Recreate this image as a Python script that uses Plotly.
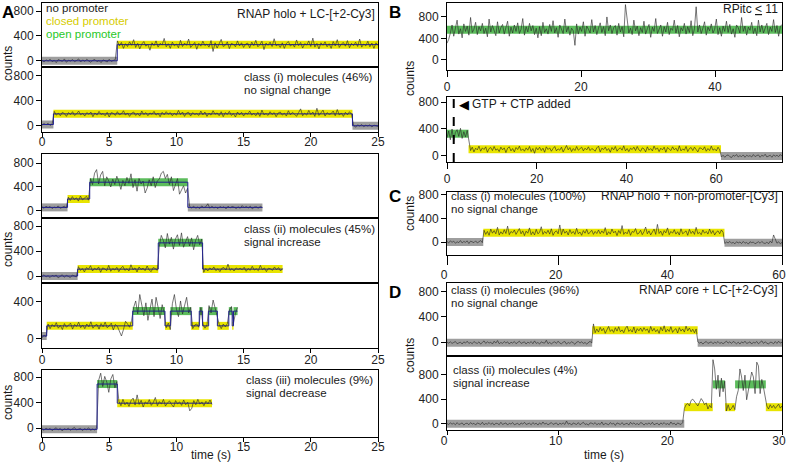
import numpy as np
import plotly.graph_objects as go

# ------------------------------------------------------------------
# DATA (levels in counts, times in s)
# Each panel: state boundaries (s), fitted level per state (counts),
# state per segment, and the raw trace as deviations from the fitted
# level, sampled evenly over the recording.
# ------------------------------------------------------------------
# Panel A, trace 1 (RNAP holo + LC-[+2-Cy3])
A1_bounds = [0, 5.6, 25]
A1_levels = [0, 260]
A1_states = ['none', 'closed']
A1_noise = [10, -20, 15, -5, 25, -15, 5, -30, 20, 0, -10, 30, -25, 10, -5, 20, -15, 5, 30, -20,
            15, -10, 25, -5, -25, 10, 20, -15, 5, -30, 15, 0, -20, 25, -10, 5, 20, 60, -20, 35,
            -60, 15, -30, 45, -10, 80, -45, 20, -70, 10, 50, -25, 5, -90, 30, -15, 60, -40, 20, -5,
            100, -35, 15, -60, 40, -20, 10, -50, 70, -30, 25, -10, 90, -45, 5, 35, -75, 20, -25, 55,
            -15, 10, -40, 65, -110, 30, -55, 15, 85, -30, -10, 45, -65, 20, 5, -35, 60, -20, 30, -45,
            10, 25, -50, 40, -15, 70, -35, 0, 55, -80, 25, -10, 40, -30, 95, -20, 5, -45, 30, -60,
            20, 50, -25, 10, -40, 75, -15, 35, -55, 15, -5, 60, -30, 105, -40, 20, -70, 30, -10, 45,
            -35, 15, -60, 50, -20, 80, -45, 10, 35, -25, 65, -50, 20, -15, 40, -30, 90, -40, 10, -20,
            55, -35, 25, -60, 30, -10]

# Panel A, trace 2: class (i) molecules (46%)
A2_bounds = [0, 0.85, 23.1, 25]
A2_levels = [20, 190, 0]
A2_states = ['none', 'closed', 'none']
A2_noise = [-10, 15, -5, 20, -15, 10, 40, -20, 10, -30, 25, 5, -40, 20, -10, 35, -25, 0, 45, -15,
            10, -35, 20, -5, 30, -45, 15, -20, 40, -10, 5, -30, 25, -50, 20, 10, -25, 35, -15, 0,
            50, -20, 15, -40, 10, 30, -25, 5, -35, 45, -10, 20, -30, 15, -5, 40, -20, 10, -45, 25,
            -15, 35, -5, 20, -30, 10, -20, 55, -10, 30, -40, 15, 25, -35, 20, -10, 5, -25, 45, -15,
            30, -40, 10, -20, 50, -5, 15, -30, 35, -45, 20, -10, 40, -25, 5, -50, 30, -15, 25, -35,
            15, -5, 45, -20, 10, -30, 25, -40, 60, -15, 5, -25, 35, -10, 20, -45, 15, 30, -20, 10,
            -35, 50, -15, 25, -5, -40, 20, 80, -30, 10, -20, 55, -10, 30, -40, 90, -25, 15, 60, -35,
            20, -10, 5, 45, -30, 70, -20, 15, -40, 25, -15, 35, -5, 10, -25, 15, -5, 20, -15, 10,
            -5, 15, -20, 10, 5, -10]

# Panel A, trace 3: class (ii) example
A3_bounds = [0, 1.9, 3.55, 10.85, 16.4]
A3_levels = [60, 200, 480, 60]
A3_states = ['none', 'closed', 'open', 'none']
A3_noise = [10, -15, 20, -5, 15, -20, 5, -10, 25, -15, 0, 20, -10,
            30, -25, 40, -10, 20, -35, 50, -15, 10, 45, -20,
            60, -40, 150, 210, -30, 120, 180, -60, 90, 20, -80, 50, -40, 100, 10, -120, 30, -60, 80, -20,
            140, -90, 40, -150, 60, -30, 20, -180, -100, 40, -60, 90, -90, 20, 50, 150, 180, 60, 130, -40,
            90, -140, -30, 60, -200, -120, -60, -180, -100,
            15, -10, 20, -15, 5, -20, 25, -5, 10, 60, -15, 20, -10, 5, -20, 15, -5, 10, -25, 20,
            -10, 15, 5, -20, 10, -15, 30, -5, 15, -10, 20, -25, 5, 10, -15, 20, -5]

# Panel A, trace 4: class (ii) molecules (45%)
A4_bounds = [0, 2.65, 8.65, 11.95, 17.9]
A4_levels = [0, 110, 530, 110]
A4_states = ['none', 'closed', 'open', 'closed']
A4_noise = [-10, 20, -15, 5, -25, 10, -5, 15, -30, 0, 20, -20, 10, -5, -25, 15, 5, -15,
            40, -20, 10, -45, 25, 0, 55, -30, 15, -10, 35, -50, 20, 5, -25, 60, -35, 10, -15, 30,
            -40, 15, 45, -20, 5, -30, 70, -10, 20, -45, 35, -5, 15, -25, 50, -15, -40, 25, 10, -20,
            -60, 120, 40, -80, 150, -20, 90, -100, 60, 130, -40, 160, -70, 30, 100, -50, 80, -110, 40, 120,
            -30, 60,
            -50, 10, -30, 20, -10, 35, -25, 5, -40, 15, 25, -15, 80, -20, 10, -30, 20, -5, 15, -10,
            30, -35, 10, -20, 45, -15, 5, -25, 60, -10, 20, -40, 15, 5, -20, 35, -10, 25, -30, 10]

# Panel A, trace 5: class (ii) example with repeated transitions
A5_bounds = [0, 0.35, 6.75, 9.15, 9.55, 11.1, 11.7, 11.95, 12.4, 13.05, 13.9, 14.15, 14.25, 14.55]
A5_levels = [30, 140, 300, 140, 300, 140, 300, 140, 300, 140, 300, 140, 300]
A5_states = ['none', 'closed', 'open', 'closed', 'open', 'closed', 'open', 'closed', 'open',
             'closed', 'open', 'closed', 'open']
A5_noise = [-20, 10, -5,
            20, -30, 15, -10, 35, -25, 5, -40, 25, -15, 10, 30, -35, 15, -5, 40, -20, 10, -30, 20,
            -10, 45, -25, 5, 15, -35, 25, -10, 40, -20, 0, 30, -45, 15, -5, -60, -110, -40, 50, 20,
            -15, 60,
            40, 110, -30, 180, 60, -50, 90, -100, 20, 130, -60, 150, 40, -80, 70, -20,
            -20, 30,
            -40, 80, 180, 20, -60, 110, -30, 60, 150, -20, 40,
            -30, 10, 20, -15,
            40,
            20, -25, 10,
            60, -20, 120, 30, -40,
            15, -30, 20, -10, 25,
            10, 50,
            30, -20, 40]

# Panel A, trace 6: class (iii) molecules (9%)
A6_bounds = [0, 4.1, 5.6, 12.65]
A6_levels = [-20, 690, 390]
A6_states = ['none', 'open', 'closed']
A6_noise = [10, -15, 20, -5, 15, -20, 5, 25, -10, 15, -25, 10, -5, 20, -15, 5, 30, -10, 0, 15,
            -20, 10, -5, 25, -15, 5, -10, 20,
            60, 170, -40, 120, 30, -130, 80, 150, -60, 40,
            30, -40, 60, -25, 15, -50, 40, 80, -30, 130, -20, 45, -60, 20, -10, 55, -35, 10, 90, -40,
            25, -15, 60, -45, 5, 35, -20, -60, 40, -10, 20, -35, 50, -25, 15, -120, -80, 40, -25, 60,
            -15, 20, -40, 30, -10, 50, -20]

# Panel B, top: RPitc <= 11
B1_bounds = [0, 50]
B1_levels = [560]
B1_states = ['open']
B1_noise = [-250, -180, -60, 90, -120, 40, 180, -80, 20, -150, 110, -30, 70, -100, 230, -50, 10, 140, -90, 60,
            -20, 120, -70, 30, -130, 200, -40, 80, -10, -110, 150, -60, 40, 100, -80, 20, 160, -120, 50, -60,
            90, -30, 130, -70, 10, 210, -100, 60, -40, 120, -20, 80, -90, 30, -150, 60, -110, 140, -50, 20,
            -80, 100, -30, 170, -60, 40, -140, 90, 10, -70, 200, -40, 60, -100, 30, -20, -290, 110, -80, 50,
            -30, 150, -120, 70, 10, -60, 190, -40, 80, -90, 30, 130, -50, 60, -110, 240, -20, 90, -70, 40,
            80, -100, 120, -40, 60, -130, 470, 150, -60, 30, -90, 180, -20, 70, -110, 40, -50, 160, -80, 20,
            100, -140, 50, -30, 210, -70, 10, 90, -120, 60, -40, 140, -90, 30, -10, 180, -60, 80, -130, 40,
            -20, 120, -80, 60, -50, 170, -110, 20, 430, -40, 90, -70, 30, 150, -100, 50, -20, 110, -60, 10,
            200, -90, 40, -120, 70, -30, 160, -50, 100, -80, 20, -140, 90, 40, -60, 230, -30, 70, -100, 50,
            -10, 140, -70, 30, -110, 180, -40, 90, -60, 20, 120, -90, 50, -30, 190, -50, 80, -120, 60, 100]

# Panel B, bottom: GTP + CTP added
B2_bounds = [0, 4.8, 61.1, 74.7]
B2_levels = [330, 100, 0]
B2_states = ['open', 'closed', 'none']
B2_noise = [-60, 40, -90, 70, -100, 20, 60, -40, 80, -70, 30, -50, 50,
            100, -20, 30, -40, 15, -10, 45, -30, 20, -5, 35, -45, 10, 25, -20, 40, -15, 5, -35, 30,
            -10, 20, -50, 15, 35, -25, 10, -40, 25, -5, 45, -20, 5, -30, 20, -15, 40, -35, 10, -60,
            25, -10, 30, -20, 15, -45, 35, -5, 20, -30, 10, 40, -25, 5, -15, 30, -40, 20, 55, -10,
            25, -35, 10, -20, 40, -15, 5, 30, -25, 15, -10, 35, -20, 10, -5, -30, 20, 45, -40, 15,
            -5, 30, -20, 10, -45, 25, -10, 40, -30, 5, 20, -15, 50, -25, 10, -35, 15, -5, 30, -20,
            40, -10, -30, 20, 5, -40, 35, -15, 10, -25, 45, -5, 20, -35, 15, -10, 30, -45, 25, 0,
            -20, 35, -10, 15, -30, 50, -25, 5, -15, 40, -35, 10, 25, -20, 30, -5, -40, 20, 15, -10,
            35, -30, 10, -20, 45, -15, 5, -25, 30, -10,
            -15, 10, -20, 5, 15, -10, -25, 10, -5, 20, -15, 5, -10, 15, -20, 10, -5, 5, -15, 20,
            -10, 5, 15, -20, 10, -5, 25, -15, 0, 10, -20, 15, -5, 10, -10, 20, -5]
gtp_ctp_time = 1.5

# Panel C: RNAP holo + non-promoter-[Cy3]
C_bounds = [0, 6.5, 49.7, 60]
C_levels = [0, 160, -10]
C_states = ['none', 'closed', 'none']
C_noise = [10, -15, 20, -5, 15, -20, 5, -10, 25, -15, 10, -5, 20, -25, 15, 0, -10, 20, -15, 5, 25, -10,
           40, -30, 20, -45, 60, -10, 35, -20, 90, -40, 15, -25, 50, -15, 110, -35, 20, -5, 45, -30,
           10, 70, -20, 30, -50, 25, -10, 80, -35, 15, -40, 55, -20, 5, 100, -30, 20, -15, 40, -25,
           65, -45, 10, 30, -20, 130, -35, 60, -10, 25, -40, 50, -15, 20, -30, 75, -20, 10, -45, 35,
           -10, 55, -25, 15, 40, -30, 20, -15, 45, -20, 30, -10, 85, -40, 15, -25, 60, -5, 25, -50,
           35, -15, 120, -30, 10, -20, 50, -45, 20, 5, 70, -25, -10, 40, -35, 15, 95, -20, 30, -40,
           10, 60, -30, 140, -15, 25, -45, 35, -5, 80, -35, 20, -10, 50, -25, 15, -40, 65, -20, 10,
           30, -45, 55, -15, 25, -30, 90, -20, 5, -35, 45, -10, 20, -25, 60, -15, 35, -40, 10, 30,
           -20, 45, 5,
           -15, 10, -5, 20, -10, 5, -20, 15, -5, 10, -15, 20, -10, 5, -25, 15, 0, 10, -20, 5,
           15, -10, 20, -5, -15, 10, -20, 25, -5, 130, 60, -10, 15, -20, 5]

# Panel D, top: RNAP core + LC-[+2-Cy3], class (i) (96%)
D1_bounds = [0, 13.0, 22.45, 30]
D1_levels = [-10, 190, -10]
D1_states = ['none', 'closed', 'none']
D1_noise = [10, -5, 15, -10, 5, 20, -15, 0, 10, -20, 15, -5, 25, -10, 5, -15, 20, 0, -10, 15,
            -20, 5, 30, -10, 15, -5, 10, -20, 25, -5, 35, -15, 5, -10, 20, -5, 15, -20, 10, -5,
            20, -15, 5, 25, -10, 0, 15, -20, 10, -5, 20, -15, 30, -10, 5, -20, 15, 0, -5, 40,
            -15, 10, -20, 5, 15, -10, 25, -5, -15, 10, 20, -20, 5, -10, 15, 0, -25, 10, 20, -5,
            15, -10, 5, -20, 10, 25, -5,
            100, -40, 20, -30, 45, -10, 30, -50, 15, 60, -20, 10, -35, 40, -15, 55, -25, 5, -40, 30,
            65, -20, 10, -30, 50, -45, 25, -10, 35, -20, 40, -5, 20, -40, 60, -15, 30, -25, 10, -50,
            45, -10, 70, -30, 15, -20, 55, -35, 5, 25, -45, 40, -15, 20, -30, 65, -10, 35, -25, 15,
            -40, 20,
            15, -5, 10, -20, 5, 20, -10, 0, 15, -15, 10, -5, 20, -10, 5, -15, 10, 25, -5, 15,
            -10, 20, 5, -15, 10, -20, 15, -5, 25, -10, 0, 15, -20, 10, -5, 20, -15, 5, 30, -10,
            15, -5, -20, 10, 5, -15, 20, -10, 25, -5, 10]

# Panel D, bottom: class (ii) (4%)
D2_bounds = [0, 21.25, 23.8, 24.9, 25.8, 28.55, 30]
D2_levels = [0, 270, 640, 270, 640, 270]
D2_states = ['none', 'closed', 'open', 'closed', 'open', 'closed']
D2_noise = [5, -10, 15, -5, 10, -15, 20, -10, 0, 15, -20, 5, 10, -15, 20, -5, 10, -20, 15, 0,
            -10, 25, -15, 5, -5, 20, -10, 15, -20, 10, 5, -15, 25, -10, 0, 15, -20, 10, -5, 20,
            -15, 5, 10, -20, 15, -5, 25, -10, 0, 10, -15, 20, -5, 10, -20, 15, -10, 30, -5, 10,
            -15, 5, 20, -10, 0, 15, -20, 10, -5, 15, -10, 45, -5, 10, -20, 15, 0, -10, 20, -15,
            5, 25, -10, 0, -20, 15, 10, -5, 20, -15, 5, -10, 30, -20, 10, 0, -15, 20, -5, 10,
            -25, 15, 5, -10, 20, -15, 0, 10, -20, 25, -5, 15, -10, 5, -15, 20, 10, -20, 5, -5,
            15, -10, 25, -15, 0, 10, -20, 15, -5, 20, -10, 5, -15, 30, -5, 10, -20, 15, 0, -10,
            20,
            -20, 40, 60, 20, 110, 130, 90, 60, 20, 80, 140, 100, 40, 70, -30, 30, -10,
            400, 250, -80, 150, -200, 100, -120, 50,
            -60, 40, -50, -20, 30, -40,
            -200, -100, 250, 120, -100, 150, -250, -80, 60, 200, 120, -150, 360, 300, -150, 80, -50, -200,
            20, -30, 40, -10, 30, -20, 10, 50, -15, 20]

# ------------------------------------------------------------------
# STYLE / LAYOUT
# ------------------------------------------------------------------
W, H = 788, 462
FONT = "Liberation Sans, Arial, sans-serif"
BAND = {'none': 'rgb(158,158,158)', 'closed': 'rgb(232,228,0)', 'open': 'rgb(92,188,92)'}
TRACE_COLOR = 'rgba(40,40,40,0.9)'
FIT_COLOR = 'rgb(30,30,140)'


def px_x(a):
    return a / W


def px_y(b):
    return 1 - b / H


# name, data, pixel box (x0, x1, ytop, ybottom), x range, y range, y ticks, x ticks,
# x tick length, x tick-label standoff, x tick-label shift, draw step fit
panels = [
    ('A1', (A1_bounds, A1_levels, A1_states, A1_noise), (42, 378, 3, 67), [0, 25], [-100, 930], [0, 400, 800], None, 0, 0, 0, True),
    ('A2', (A2_bounds, A2_levels, A2_states, A2_noise), (42, 378, 67, 132), [0, 25], [-100, 940], [0, 400, 800], [0, 5, 10, 15, 20, 25], 4, -5, 0, True),
    ('A3', (A3_bounds, A3_levels, A3_states, A3_noise), (42, 378, 154, 218), [0, 25], [-117, 950], [0, 400, 800], None, 0, 0, 0, True),
    ('A4', (A4_bounds, A4_levels, A4_states, A4_noise), (42, 378, 218, 283), [0, 25], [-112, 928], [0, 400, 800], None, 0, 0, 0, True),
    ('A5', (A5_bounds, A5_levels, A5_states, A5_noise), (42, 378, 283, 348), [0, 25], [-100, 605], [0, 400], [0, 5, 10, 15, 20, 25], 4, -3, 0, True),
    ('A6', (A6_bounds, A6_levels, A6_states, A6_noise), (42, 378, 370, 437), [0, 25], [-140, 910], [0, 400, 800], [0, 5, 10, 15, 20, 25], 4, -5, 0, True),
    ('B1', (B1_bounds, B1_levels, B1_states, B1_noise), (447, 782, 3, 70), [0, 50], [-190, 1060], [0, 400, 800], [0, 20, 40], 6, 0, 0, False),
    ('B2', (B2_bounds, B2_levels, B2_states, B2_noise), (447, 782, 97, 162), [0, 74.7], [-90, 875], [0, 400, 800], [0, 20, 40, 60], 6, 0, 0, False),
    ('C', (C_bounds, C_levels, C_states, C_noise), (447, 782, 192, 255), [0, 60], [-220, 850], [0, 400, 800], [0, 20, 40, 60], 9, 0, -3, False),
    ('D1', (D1_bounds, D1_levels, D1_states, D1_noise), (447, 782, 283, 356), [0, 30], [-220, 940], [0, 400, 800], None, 0, 0, 0, False),
    ('D2', (D2_bounds, D2_levels, D2_states, D2_noise), (447, 782, 356, 430), [0, 30], [-100, 1100], [0, 400, 800], [0, 10, 20, 30], 4, -4, -3, False),
]


def level_at(bounds, levels, t):
    idx = np.searchsorted(np.asarray(bounds), t, side='right') - 1
    idx = np.clip(idx, 0, len(levels) - 1)
    return np.asarray(levels, dtype=float)[idx]


fig = go.Figure()
layout = {}

for n, (name, data, box, xr, yr, ytv, xtv, xtl, xso, xsh, fit) in enumerate(panels, start=1):
    bounds, levels, states, noise = data
    xa = 'x' if n == 1 else f'x{n}'
    ya = 'y' if n == 1 else f'y{n}'

    # state bands
    for st in ['none', 'closed', 'open']:
        bx, by = [], []
        for i, s in enumerate(states):
            if s == st:
                bx += [bounds[i], bounds[i + 1], None]
                by += [levels[i], levels[i], None]
        if bx:
            fig.add_trace(go.Scatter(x=bx, y=by, mode='lines', xaxis=xa, yaxis=ya,
                                     line=dict(color=BAND[st], width=8), hoverinfo='skip',
                                     showlegend=False))
    # raw trace
    t = np.linspace(bounds[0], bounds[-1], len(noise))
    tr = level_at(bounds, levels, t) + np.asarray(noise, dtype=float)
    fig.add_trace(go.Scatter(x=t, y=tr, mode='lines', xaxis=xa, yaxis=ya,
                             line=dict(color=TRACE_COLOR, width=0.7), showlegend=False))
    # step fit
    if fit:
        fig.add_trace(go.Scatter(x=list(bounds), y=list(levels) + [levels[-1]], mode='lines',
                                 line_shape='hv', xaxis=xa, yaxis=ya,
                                 line=dict(color=FIT_COLOR, width=1), showlegend=False))

    x0, x1, yt, yb = box
    xkey = 'xaxis' if n == 1 else f'xaxis{n}'
    ykey = 'yaxis' if n == 1 else f'yaxis{n}'
    layout[xkey] = dict(domain=[px_x(x0), px_x(x1)], range=xr, anchor=ya, automargin=False,
                        showline=True, mirror=True, linecolor='black', linewidth=1,
                        showgrid=False, zeroline=False,
                        ticks='outside' if xtv else '', ticklen=xtl, tickcolor='black',
                        tickvals=xtv if xtv else [], showticklabels=bool(xtv),
                        ticklabelstandoff=xso, ticklabelshift=xsh, ticklabeloverflow='allow',
                        tickfont=dict(size=12, color='#222', family=FONT))
    layout[ykey] = dict(domain=[px_y(yb), px_y(yt)], range=yr, anchor=xa, automargin=False,
                        showline=True, mirror=True, linecolor='black', linewidth=1,
                        showgrid=False, zeroline=False, ticklabeloverflow='allow',
                        ticks='outside', ticklen=5, tickcolor='black', tickvals=ytv,
                        tickfont=dict(size=12, color='#222', family=FONT))

# dashed line marking nucleotide addition (panel B bottom = axis 8)
fig.add_shape(type='line', xref='x8', yref='y8 domain', x0=gtp_ctp_time, x1=gtp_ctp_time,
              y0=0, y1=1, line=dict(color='black', width=2, dash='dash'))

annotations = []


def ann(text, x, y, xanchor='left', size=12, color='#1a1a1a', angle=0, bold=False):
    if bold:
        text = f'<b>{text}</b>'
    annotations.append(dict(text=text, x=px_x(x), y=px_y(y), xref='paper', yref='paper',
                            xanchor=xanchor, yanchor='middle', showarrow=False, borderpad=0,
                            textangle=angle, font=dict(size=size, color=color, family=FONT)))


# panel letters
ann('A', 8, 12, 'center', 17, 'black', bold=True)
ann('B', 395, 13, 'center', 17, 'black', bold=True)
ann('C', 395, 197, 'center', 17, 'black', bold=True)
ann('D', 395, 292, 'center', 17, 'black', bold=True)

# y titles
for (x, y) in [(8, 64), (8, 250), (8, 403), (410, 78), (410, 213), (410, 355)]:
    ann('counts', x, y, 'center', 12, angle=-90)
ann('time (s)', 211, 455, 'center')
ann('time (s)', 604, 455, 'center')

# legend-like labels
S2 = 11.5
ann('no promoter', 45, 8, size=S2)
ann('closed promoter', 45, 21, size=S2, color='rgb(214,204,0)')
ann('open promoter', 45, 34, size=S2, color='rgb(40,200,40)')
ann('RNAP holo + LC-[+2-Cy3]', 376, 14, 'right')
ann('class (i) molecules (46%)', 243, 76.5, size=S2)
ann('no signal change', 243, 89.5, size=S2)
ann('class (ii) molecules (45%)', 243, 228.5, size=S2)
ann('signal increase', 243, 241.5, size=S2)
ann('class (iii) molecules (9%)', 245, 379.5, size=S2)
ann('signal decrease', 245, 392.5, size=S2)
ann('RPitc <u>&lt;</u> 11', 779, 9, 'right')
ann('◀', 464, 104, 'center', 13, 'black')
ann('GTP + CTP added', 471, 104)
ann('class (i) molecules (100%)', 450, 195.5, size=S2)
ann('no signal change', 450, 208.5, size=S2)
ann('RNAP holo + non-promoter-[Cy3]', 779, 196, 'right')
ann('class (i) molecules (96%)', 450, 289.5, size=S2)
ann('no signal change', 450, 302.5, size=S2)
ann('RNAP core + LC-[+2-Cy3]', 779, 290, 'right')
ann('class (ii) molecules (4%)', 452, 369.5, size=S2)
ann('signal increase', 452, 382.5, size=S2)

fig.update_layout(width=W, height=H, margin=dict(l=0, r=0, t=0, b=0),
                  paper_bgcolor='white', plot_bgcolor='white',
                  font=dict(family=FONT, size=12, color='#1a1a1a'),
                  annotations=annotations, showlegend=False, **layout)

fig.write_html('out.html', config={'displayModeBar': False},
               post_script="document.body.style.margin='0px';document.body.style.overflow='hidden';")
